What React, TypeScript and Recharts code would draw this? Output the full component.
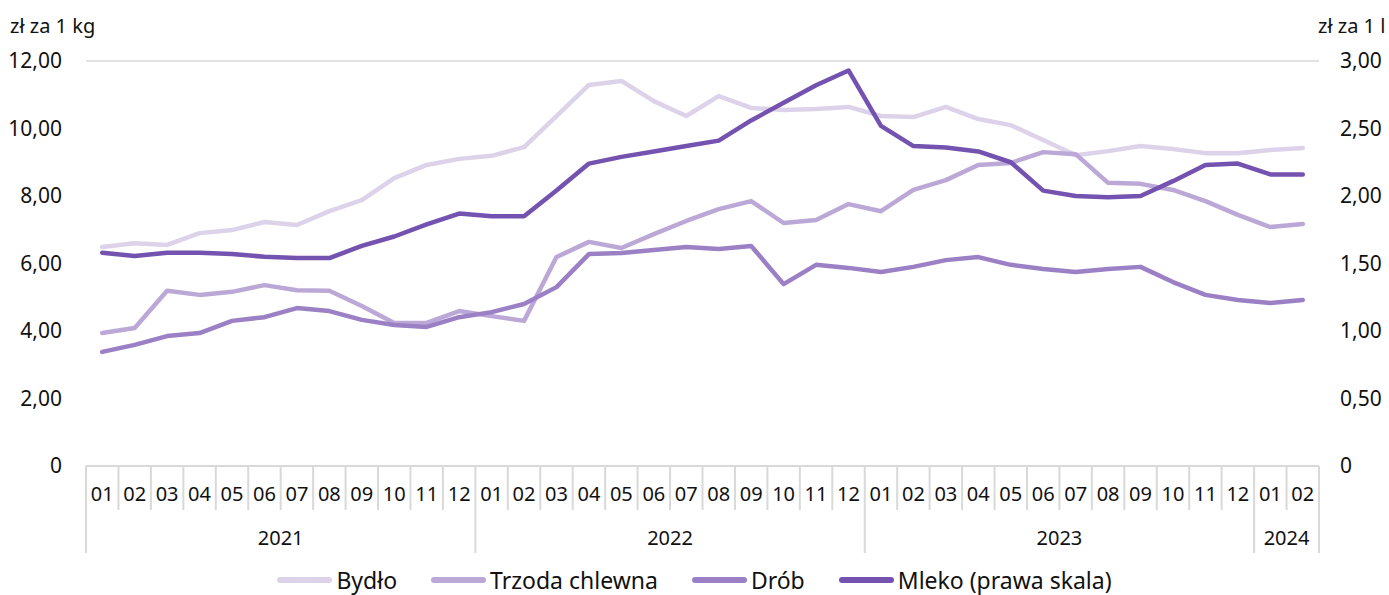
import { LineChart, Line, XAxis, YAxis, CartesianGrid, Legend, Customized } from 'recharts';

const months = [
  '01', '02', '03', '04', '05', '06', '07', '08', '09', '10', '11', '12',
  '01', '02', '03', '04', '05', '06', '07', '08', '09', '10', '11', '12',
  '01', '02', '03', '04', '05', '06', '07', '08', '09', '10', '11', '12',
  '01', '02',
];
const years = ['2021', '2022', '2023', '2024'];
const yearSpans = [12, 12, 12, 2];

const bydlo = [
  6.49, 6.6, 6.55, 6.9, 6.99, 7.23, 7.14, 7.55, 7.88, 8.53, 8.92, 9.1,
  9.19, 9.45, 10.37, 11.29, 11.41, 10.81, 10.37, 10.96, 10.61, 10.55, 10.58, 10.64,
  10.37, 10.34, 10.64, 10.28, 10.1, 9.66, 9.21, 9.33, 9.48, 9.39, 9.27, 9.27,
  9.36, 9.42,
];
const trzoda = [
  3.94, 4.09, 5.19, 5.07, 5.16, 5.36, 5.21, 5.19, 4.74, 4.24, 4.24, 4.59,
  4.44, 4.3, 6.19, 6.64, 6.46, 6.87, 7.26, 7.61, 7.85, 7.2, 7.29, 7.76,
  7.55, 8.18, 8.47, 8.92, 8.98, 9.3, 9.24, 8.39, 8.36, 8.18, 7.85, 7.44,
  7.08, 7.17,
];
const drob = [
  3.38, 3.59, 3.85, 3.94, 4.3, 4.41, 4.68, 4.59, 4.33, 4.18, 4.12, 4.41,
  4.56, 4.8, 5.3, 6.28, 6.31, 6.4, 6.49, 6.43, 6.52, 5.39, 5.96, 5.87,
  5.75, 5.9, 6.1, 6.19, 5.96, 5.84, 5.75, 5.84, 5.9, 5.45, 5.07, 4.92,
  4.83, 4.92,
];
const mleko = [
  1.58, 1.556, 1.58, 1.58, 1.57, 1.55, 1.54, 1.54, 1.63, 1.7, 1.79, 1.87,
  1.85, 1.85, 2.04, 2.24, 2.29, 2.33, 2.37, 2.41, 2.56, 2.69, 2.82, 2.93,
  2.52, 2.37, 2.36, 2.33, 2.25, 2.04, 2.0, 1.99, 2.0, 2.11, 2.23, 2.24,
  2.16, 2.16,
];

const leftTicks = [0, 2, 4, 6, 8, 10, 12];
const rightTicks = [0, 0.5, 1, 1.5, 2, 2.5, 3];

const series = [
  { key: 'Bydło', color: '#dcd3ea', axis: 'left', values: bydlo },
  { key: 'Trzoda chlewna', color: '#bca8d7', axis: 'left', values: trzoda },
  { key: 'Drób', color: '#9b80c5', axis: 'left', values: drob },
  { key: 'Mleko (prawa skala)', color: '#7352b0', axis: 'right', values: mleko },
];

const data = months.map((m, i) => {
  const row: Record<string, string | number> = { month: m, idx: i };
  series.forEach((s) => (row[s.key] = s.values[i]));
  return row;
});

const W = 1389;
const H = 595;
const LEFT = 86;
const RIGHT = 70;
const BAND = (W - LEFT - RIGHT) / months.length;
const FONT = '"Noto Sans", sans-serif';
const GRID = '#d9d9d9';
const INK = '#111';

const yearStarts = yearSpans.reduce<number[]>((acc, n, i) => {
  acc.push(i === 0 ? 0 : acc[i - 1] + yearSpans[i - 1]);
  return acc;
}, []);

const fmt = (v: number) => (v === 0 ? '0' : v.toFixed(2).replace('.', ','));

function MonthTick(props: any) {
  const { x, y, index } = props;
  const left = x - BAND / 2;
  const g = yearStarts.indexOf(index);
  const isLast = index === months.length - 1;
  return (
    <g>
      <line x1={left} x2={left} y1={y} y2={y + (g >= 0 ? 87 : 44)} stroke={GRID} strokeWidth={2} />
      {isLast && (
        <line x1={x + BAND / 2} x2={x + BAND / 2} y1={y} y2={y + 87} stroke={GRID} strokeWidth={2} />
      )}
      <text x={x} y={y + 35} textAnchor="middle" fontSize={20} fill={INK} fontFamily={FONT}>
        {months[index]}
      </text>
      {g >= 0 && (
        <text
          x={x + ((yearSpans[g] - 1) * BAND) / 2}
          y={y + 79}
          textAnchor="middle"
          fontSize={20}
          fill={INK}
          fontFamily={FONT}
        >
          {years[g]}
        </text>
      )}
    </g>
  );
}

function LeftTick(props: any) {
  const { x, y, payload } = props;
  return (
    <text x={x} y={y + 7} textAnchor="end" fontSize={21} fill={INK} fontFamily={FONT}>
      {fmt(payload.value)}
    </text>
  );
}

function RightTick(props: any) {
  const { x, y, payload } = props;
  return (
    <text x={x} y={y + 7} textAnchor="start" fontSize={21} fill={INK} fontFamily={FONT}>
      {fmt(payload.value)}
    </text>
  );
}

function LegendContent() {
  return (
    <div
      style={{
        display: 'flex',
        justifyContent: 'center',
        alignItems: 'center',
        gap: 34,
        height: 30,
        fontFamily: FONT,
        fontSize: 23,
        color: INK,
      }}
    >
      {series.map((s) => (
        <div key={s.key} style={{ display: 'flex', alignItems: 'center' }}>
          <span
            style={{
              display: 'inline-block',
              width: 55,
              height: 6,
              borderRadius: 3,
              background: s.color,
              marginRight: 4,
            }}
          />
          {s.key}
        </div>
      ))}
    </div>
  );
}

function Titles() {
  return (
    <g fontFamily={FONT} fontSize={20} fill={INK}>
      <text x={10} y={33}>zł za 1 kg</text>
      <text x={1318} y={33}>zł za 1 l</text>
    </g>
  );
}

export default function App() {
  return (
    <div style={{ position: 'absolute', left: 0, top: 0, background: '#fff' }}>
      <LineChart width={W} height={H} data={data} margin={{ top: 61, right: 0, bottom: 0, left: 0 }}>
        <CartesianGrid vertical={false} stroke={GRID} strokeWidth={1.5} />
        <XAxis
          dataKey="idx"
          type="category"
          interval={0}
          height={99}
          padding={{ left: BAND / 2, right: BAND / 2 }}
          tickLine={false}
          tickSize={0}
          tickMargin={0}
          axisLine={{ stroke: GRID, strokeWidth: 2 }}
          tick={<MonthTick />}
        />
        <YAxis
          yAxisId="left"
          width={LEFT}
          domain={[0, 12]}
          ticks={leftTicks}
          axisLine={false}
          tickLine={false}
          tickSize={0}
          tickMargin={24}
          tick={<LeftTick />}
        />
        <YAxis
          yAxisId="right"
          orientation="right"
          width={RIGHT}
          domain={[0, 3]}
          ticks={rightTicks}
          axisLine={false}
          tickLine={false}
          tickSize={0}
          tickMargin={21}
          tick={<RightTick />}
        />
        <Legend verticalAlign="bottom" content={<LegendContent />} />
        {series.map((s) => (
          <Line
            key={s.key}
            yAxisId={s.axis}
            dataKey={s.key}
            stroke={s.color}
            strokeWidth={4.5}
            dot={false}
            activeDot={false}
            strokeLinejoin="round"
            strokeLinecap="round"
            isAnimationActive={false}
          />
        ))}
        <Customized component={<Titles />} />
      </LineChart>
    </div>
  );
}
